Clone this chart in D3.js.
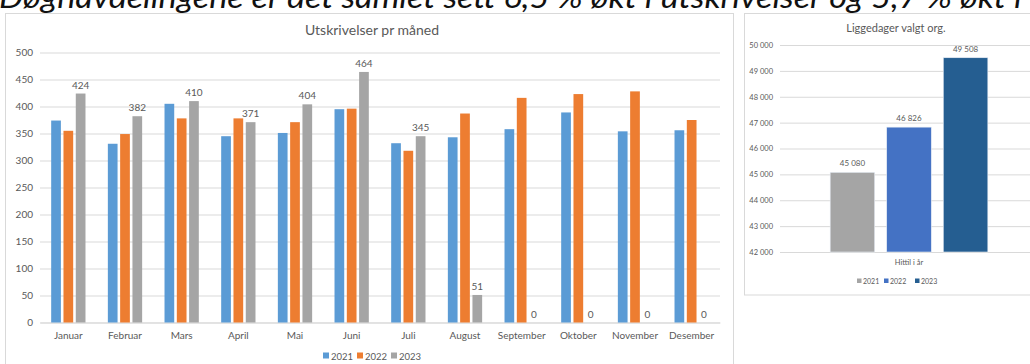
<!DOCTYPE html>
<html>
<head>
<meta charset="utf-8">
<script src="https://cdn.jsdelivr.net/npm/d3@7"></script>
<style>
  html, body { margin: 0; padding: 0; background: #fff; }
  svg { display: block; }
  text { font-family: Lato, "Open Sans", sans-serif; }
</style>
</head>
<body>
<svg id="chart" width="1030" height="364"></svg>
<script>
// Monthly discharges per year
const months = ["Januar", "Februar", "Mars", "April", "Mai", "Juni", "Juli", "August",
                "September", "Oktober", "November", "Desember"];
const years = ["2021", "2022", "2023"];
const discharges2021 = [374, 331, 405, 345, 351, 395, 332, 343, 358, 389, 354, 356];
const discharges2022 = [355, 349, 378, 378, 371, 396, 318, 387, 416, 423, 428, 375];
const discharges2023 = [424, 382, 410, 371, 404, 464, 345, 51, 0, 0, 0, 0];
const monthTicks = [0, 50, 100, 150, 200, 250, 300, 350, 400, 450, 500];

// Bed days for the selected organisation, year to date
const bedCategory = ["Hittil i år"];
const bedDays = [45080, 46826, 49508];
const bedTicks = [42000, 43000, 44000, 45000, 46000, 47000, 48000, 49000, 50000];

const headline = "Døgnavdelingene er det samlet sett 6,5 % økt i utskrivelser og 5,7 % økt i liggedager";

const svg = d3.select("#chart");
const textGrey = "#595959";
const gridGrey = "#d9d9d9";
const seriesColors = ["#5b9bd5", "#ed7d31", "#a5a5a5"];
const bedColors = ["#a5a5a5", "#4472c4", "#255e91"];
const spaceFmt = d => d3.format(",")(d).replace(/,/g, " ");

// Heading line, cut by the top edge and running past the right edge
svg.append("text")
  .attr("x", -1).attr("y", 8)
  .attr("font-size", 30).attr("font-style", "italic")
  .attr("textLength", 1175).attr("lengthAdjust", "spacingAndGlyphs")
  .attr("fill", "#111")
  .text(headline);

// ---------- Left panel: Utskrivelser pr måned ----------
const L = svg.append("g");
L.append("rect").attr("x", 5.5).attr("y", 13.5).attr("width", 728).attr("height", 360)
  .attr("fill", "#fff").attr("stroke", gridGrey);

L.append("text").attr("x", 372).attr("y", 35).attr("text-anchor", "middle")
  .attr("font-size", 14).attr("fill", textGrey).text("Utskrivelser pr måned");

const y = d3.scaleLinear().domain([0, 500]).range([322.5, 52.5]);
const x0 = d3.scaleBand().domain(months).range([40, 720]);
const groupW = 34.3;
const x1 = d3.scaleBand().domain(years).range([0, groupW]).paddingInner(0.211);

// gridlines + y labels
const yAxis = d3.axisLeft(y).tickValues(monthTicks).tickSize(-680).tickPadding(7);
const yg = L.append("g").attr("transform", "translate(40,0)").call(yAxis);
yg.select(".domain").remove();
yg.selectAll(".tick line").attr("stroke", gridGrey);
yg.selectAll(".tick text").attr("font-size", 10).attr("fill", textGrey)
  .attr("font-family", "Lato, sans-serif");

// x labels
const xAxis = d3.axisBottom(x0).tickSize(0).tickPadding(9);
const xg = L.append("g").attr("transform", "translate(0,322.5)").call(xAxis);
xg.select(".domain").attr("stroke", gridGrey);
xg.selectAll(".tick text").attr("font-size", 10).attr("fill", textGrey)
  .attr("font-family", "Lato, sans-serif");

const seriesData = [discharges2021, discharges2022, discharges2023];
const groups = L.append("g").selectAll("g").data(months).join("g")
  .attr("transform", d => `translate(${x0(d) + (x0.bandwidth() - groupW) / 2},0)`);

groups.selectAll("rect")
  .data((m, i) => years.map((yr, s) => ({ yr, s, v: seriesData[s][i] })))
  .join("rect")
  .attr("x", d => x1(d.yr))
  .attr("width", x1.bandwidth())
  .attr("y", d => y(d.v))
  .attr("height", d => y(0) - y(d.v))
  .attr("fill", d => seriesColors[d.s]);

// value labels on the 2023 series
groups.append("text")
  .datum((m, i) => discharges2023[i])
  .attr("x", x1("2023") + x1.bandwidth() / 2)
  .attr("y", d => y(d) - 5)
  .attr("text-anchor", "middle")
  .attr("font-size", 10).attr("fill", textGrey)
  .text(d => d);

// legend
const legL = L.append("g").attr("transform", "translate(323,356)");
const legLPos = [0, 34, 68];
years.forEach((yr, i) => {
  legL.append("rect").attr("x", legLPos[i]).attr("y", -3.5).attr("width", 6).attr("height", 6)
    .attr("fill", seriesColors[i]);
  legL.append("text").attr("x", legLPos[i] + 8).attr("y", 3.5)
    .attr("font-size", 9.5).attr("fill", textGrey).text(yr);
});

// ---------- Right panel: Liggedager valgt org. ----------
const R = svg.append("g");
R.append("rect").attr("x", 744.5).attr("y", 13.5).attr("width", 300).attr("height", 281.5)
  .attr("fill", "#fff").attr("stroke", gridGrey);

R.append("text").attr("x", 896).attr("y", 32).attr("text-anchor", "middle")
  .attr("font-size", 11).attr("fill", textGrey).text("Liggedager valgt org.");

const yr = d3.scaleLinear().domain([42000, 50000]).range([252, 45]);
const xr0 = d3.scaleBand().domain(bedCategory).range([780, 1038]);
const bedGroupW = 157.7;
const xr1 = d3.scaleBand().domain(years).range([0, bedGroupW]).paddingInner(0.212);

const yrAxis = d3.axisLeft(yr).tickValues(bedTicks).tickSize(-260).tickPadding(7).tickFormat(spaceFmt);
const yrg = R.append("g").attr("transform", "translate(780,0)").call(yrAxis);
yrg.select(".domain").remove();
yrg.selectAll(".tick line").attr("stroke", gridGrey);
yrg.selectAll(".tick text").attr("font-size", 7.5).attr("fill", textGrey)
  .attr("font-family", "Lato, sans-serif");

const xrAxis = d3.axisBottom(xr0).tickSize(0).tickPadding(8);
const xrg = R.append("g").attr("transform", "translate(0,252)").call(xrAxis);
xrg.select(".domain").attr("stroke", gridGrey);
xrg.selectAll(".tick text").attr("font-size", 7.5).attr("fill", textGrey)
  .attr("font-family", "Lato, sans-serif");

const bedG = R.append("g")
  .attr("transform", `translate(${xr0(bedCategory[0]) + (xr0.bandwidth() - bedGroupW) / 2},0)`);
bedG.selectAll("rect").data(bedDays).join("rect")
  .attr("x", (d, i) => xr1(years[i]))
  .attr("width", xr1.bandwidth())
  .attr("y", d => yr(d))
  .attr("height", d => yr(42000) - yr(d))
  .attr("fill", (d, i) => bedColors[i])
  .attr("stroke", "#e8eef6").attr("stroke-width", 0.6);
bedG.selectAll("text").data(bedDays).join("text")
  .attr("x", (d, i) => xr1(years[i]) + xr1.bandwidth() / 2)
  .attr("y", d => yr(d) - 6)
  .attr("text-anchor", "middle")
  .attr("font-size", 8).attr("fill", textGrey)
  .text(spaceFmt);

// legend
const legR = R.append("g").attr("transform", "translate(857,281)");
const legRPos = [0, 27, 58];
years.forEach((yrLabel, i) => {
  legR.append("rect").attr("x", legRPos[i]).attr("y", -2.5).attr("width", 4.5).attr("height", 4.5)
    .attr("fill", bedColors[i]);
  legR.append("text").attr("x", legRPos[i] + 6).attr("y", 2.5)
    .attr("font-size", 7).attr("fill", textGrey).text(yrLabel);
});
</script>
</body>
</html>
